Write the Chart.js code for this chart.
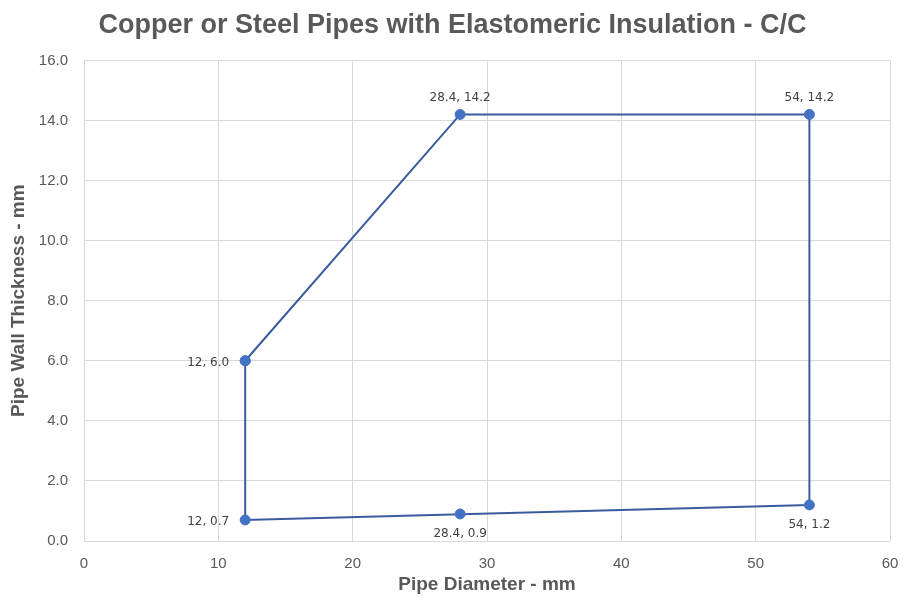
<!DOCTYPE html>
<html>
<head>
<meta charset="utf-8">
<script src="https://cdn.jsdelivr.net/npm/chart.js@4.4.1/dist/chart.umd.min.js"></script>
<style>
  html, body { margin: 0; padding: 0; background: #fff; }
  #wrap { width: 905px; height: 596px; }
</style>
</head>
<body>
<div id="wrap"><canvas id="myChart"></canvas></div>
<script>
// outline of the C/C region
const pathX = [12, 28, 54, 54, 12, 12];
const pathY = [6.0, 14.2, 14.2, 1.2, 0.7, 6.0];
// lone point not on the outline
const extraX = [28];
const extraY = [0.9];

// data labels as shown on the chart
const labelText = ['12, 6.0', '28.4, 14.2', '54, 14.2', '54, 1.2', '12, 0.7', '28.4, 0.9'];
const labelX = [12, 28, 54, 54, 12, 28];
const labelY = [6.0, 14.2, 14.2, 1.2, 0.7, 0.9];
const labelPos = ['left', 'above', 'above', 'below', 'left', 'below'];

const xTicks = [0, 10, 20, 30, 40, 50, 60];
const yTicks = [0, 2, 4, 6, 8, 10, 12, 14, 16];

const grey = '#595959';

const pointLabels = {
  id: 'pointLabels',
  afterDatasetsDraw(chart) {
    const ctx = chart.ctx;
    const xs = chart.scales.x, ys = chart.scales.y;
    ctx.save();
    ctx.font = '12px "DejaVu Sans"';
    ctx.fillStyle = '#404040';
    ctx.textBaseline = 'middle';
    for (let i = 0; i < labelText.length; i++) {
      const px = xs.getPixelForValue(labelX[i]);
      const py = ys.getPixelForValue(labelY[i]);
      if (labelPos[i] == 'left') {
        ctx.textAlign = 'right';
        ctx.fillText(labelText[i], px - 16, py + 2);
      } else if (labelPos[i] == 'above') {
        ctx.textAlign = 'center';
        ctx.fillText(labelText[i], px, py - 17);
      } else {
        ctx.textAlign = 'center';
        ctx.fillText(labelText[i], px, py + 20);
      }
    }
    ctx.restore();
  }
};

new Chart(document.getElementById('myChart'), {
  type: 'scatter',
  data: {
    datasets: [{
      data: pathX.map((x, i) => ({ x: x, y: pathY[i] })),
      showLine: true,
      borderColor: '#3A5BA0',
      borderWidth: 2,
      pointRadius: 5,
      pointBorderWidth: 1,
      pointBackgroundColor: '#4472C4',
      pointBorderColor: '#4472C4',
      tension: 0,
      order: 1
    }, {
      data: extraX.map((x, i) => ({ x: x, y: extraY[i] })),
      showLine: false,
      pointRadius: 5,
      pointBorderWidth: 1,
      pointBackgroundColor: '#4472C4',
      pointBorderColor: '#4472C4',
      order: 0
    }]
  },
  options: {
    responsive: true,
    maintainAspectRatio: false,
    animation: false,
    layout: { padding: 0 },
    plugins: {
      legend: { display: false },
      tooltip: { enabled: false },
      title: {
        display: true,
        text: 'Copper or Steel Pipes with Elastomeric Insulation - C/C',
        color: grey,
        font: { family: '"Liberation Sans", Arial, sans-serif', size: 27, weight: 'bold' },
        padding: { top: 9, bottom: 19 }
      }
    },
    scales: {
      x: {
        type: 'linear',
        min: 0, max: 60,
        afterBuildTicks: s => { s.ticks = xTicks.map(v => ({ value: v })); },
        afterFit: s => { s.height = 55; s.paddingRight = 15; s.paddingLeft = 0; },
        grid: { color: '#d9d9d9', drawTicks: false },
        border: { display: false },
        ticks: {
          color: grey,
          padding: 14,
          font: { family: '"Liberation Sans", Arial, sans-serif', size: 15 }
        },
        title: {
          display: true,
          text: 'Pipe Diameter - mm',
          color: grey,
          padding: 0,
          font: { family: '"Liberation Sans", Arial, sans-serif', size: 19, weight: 'bold' }
        }
      },
      y: {
        type: 'linear',
        min: 0, max: 16,
        afterBuildTicks: s => { s.ticks = yTicks.map(v => ({ value: v })); },
        afterFit: s => { s.width = 84; },
        grid: { color: '#d9d9d9', drawTicks: false },
        border: { display: false },
        ticks: {
          color: grey,
          padding: 16,
          callback: v => v.toFixed(1),
          font: { family: '"Liberation Sans", Arial, sans-serif', size: 15 }
        },
        title: {
          display: true,
          text: 'Pipe Wall Thickness - mm',
          color: grey,
          padding: { top: 7, bottom: 0 },
          font: { family: '"Liberation Sans", Arial, sans-serif', size: 19, weight: 'bold' }
        }
      }
    }
  },
  plugins: [pointLabels]
});
</script>
</body>
</html>
